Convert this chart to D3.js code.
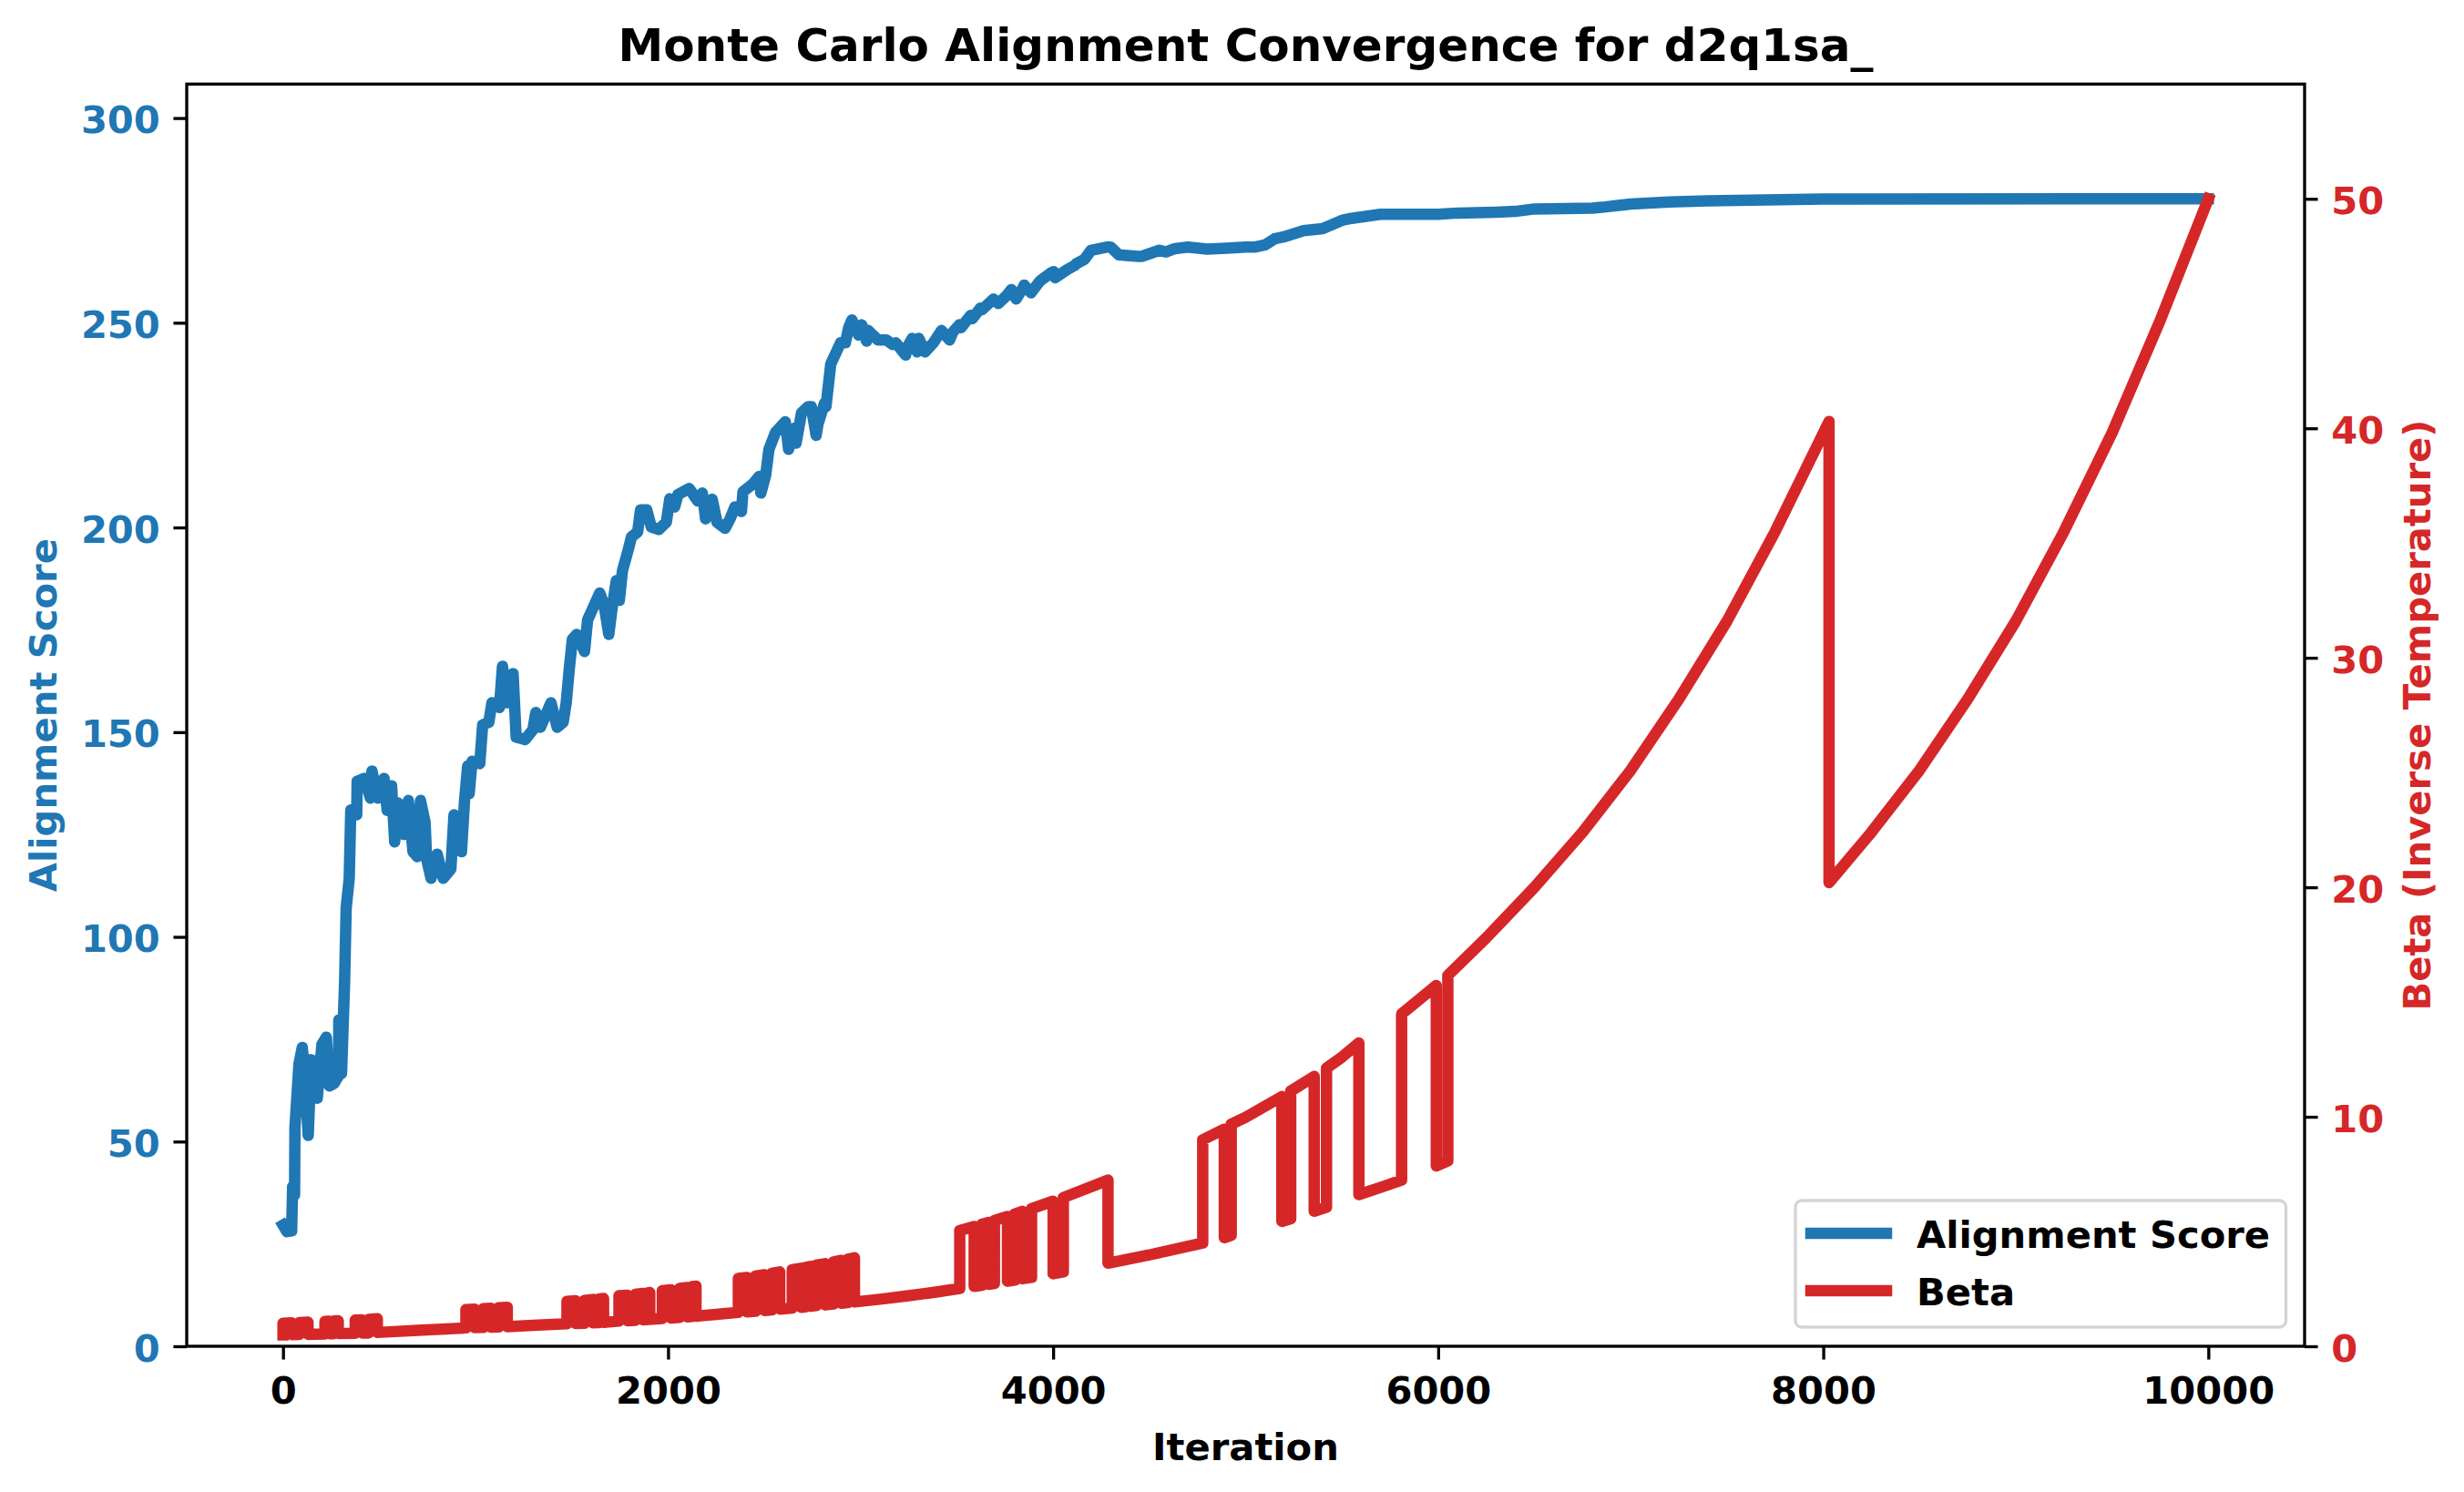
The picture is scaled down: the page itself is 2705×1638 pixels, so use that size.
<!DOCTYPE html>
<html>
<head>
<meta charset="utf-8">
<script src="https://cdn.jsdelivr.net/npm/d3@7"></script>
<style>
  body { margin: 0; background: #fff; }
  svg text { font-family: "DejaVu Sans", sans-serif; font-weight: bold; }
</style>
</head>
<body>
<svg id="chart" width="2705" height="1638"></svg>
<script>
// score trace
var scoreIter = [0, 20, 45, 50, 60, 62, 70, 83, 100, 110, 131, 146, 165, 178, 202, 225, 241, 265, 288, 290, 304, 320, 328, 344, 352, 383, 385, 422, 454, 462, 493, 525, 541, 564, 580, 596, 627, 651, 675, 698, 714, 738, 746, 769, 801, 832, 872, 888, 927, 943, 959, 967, 982, 1022, 1037, 1069, 1085, 1124, 1140, 1164, 1195, 1211, 1258, 1298, 1313, 1337, 1392, 1424, 1455, 1471, 1487, 1503, 1526, 1566, 1582, 1605, 1645, 1668, 1692, 1708, 1731, 1747, 1763, 1794, 1810, 1842, 1857, 1889, 1913, 1952, 1991, 2009, 2034, 2051, 2110, 2153, 2178, 2195, 2229, 2254, 2296, 2322, 2347, 2381, 2389, 2440, 2474, 2482, 2507, 2524, 2558, 2609, 2626, 2660, 2665, 2693, 2727, 2744, 2769, 2778, 2812, 2820, 2829, 2845, 2896, 2921, 2938, 2955, 2989, 3006, 3031, 3040, 3090, 3133, 3166, 3183, 3234, 3242, 3268, 3293, 3302, 3335, 3378, 3420, 3462, 3479, 3513, 3521, 3572, 3580, 3623, 3631, 3690, 3715, 3758, 3783, 3808, 3842, 3850, 3885, 3927, 3935, 3986, 4003, 4011, 4070, 4112, 4120, 4163, 4197, 4282, 4299, 4341, 4442, 4459, 4552, 4586, 4633, 4700, 4800, 4900, 5000, 5050, 5100, 5150, 5200, 5300, 5400, 5450, 5500, 5550, 5700, 5800, 6000, 6100, 6300, 6400, 6500, 6800, 6850, 7000, 7200, 7400, 7700, 8000, 10000];
var scoreVal = [29.6, 28.0, 28.2, 39.0, 37.0, 53.5, 59.4, 69.0, 73.0, 68.0, 51.5, 70.0, 62.0, 60.6, 73.7, 75.5, 63.6, 64.2, 66.0, 79.7, 66.6, 89.0, 107.0, 114.3, 131.0, 129.8, 138.0, 138.7, 133.9, 140.5, 133.9, 138.7, 130.9, 136.9, 123.2, 132.7, 125.0, 133.3, 120.8, 119.6, 133.3, 128.0, 119.0, 114.3, 120.2, 114.3, 116.6, 129.8, 120.8, 133.3, 141.7, 135.0, 142.9, 142.3, 151.8, 152.4, 157.2, 156.0, 166.1, 157.2, 164.3, 148.8, 148.2, 150.6, 154.8, 151.2, 157.2, 151.2, 152.4, 157.2, 165.5, 172.7, 173.9, 169.7, 177.4, 179.8, 184.0, 181.0, 173.9, 179.8, 187.0, 182.2, 189.4, 194.7, 197.7, 198.9, 204.3, 204.3, 200.1, 199.5, 201.3, 207.0, 205.0, 208.0, 209.5, 206.5, 208.4, 202.1, 206.9, 201.3, 199.8, 202.1, 205.0, 203.9, 208.7, 210.6, 212.5, 208.4, 212.8, 219.1, 223.2, 225.8, 219.1, 224.3, 220.6, 228.0, 229.5, 229.5, 222.5, 225.1, 230.3, 229.5, 233.2, 239.9, 245.1, 245.1, 248.8, 250.7, 247.0, 249.5, 245.5, 248.1, 245.8, 245.8, 244.7, 245.1, 242.1, 244.0, 246.2, 242.9, 246.2, 242.9, 245.1, 248.1, 245.8, 247.7, 249.5, 248.8, 251.8, 251.0, 253.6, 253.2, 255.8, 254.7, 256.6, 258.1, 255.8, 258.4, 259.2, 257.3, 259.9, 260.3, 262.1, 262.5, 261.0, 262.9, 264.0, 264.4, 265.5, 267.7, 268.5, 268.5, 266.6, 266.2, 266.2, 267.7, 267.3, 268.1, 268.5, 268.0, 268.2, 268.5, 268.5, 269.0, 270.5, 271.0, 272.5, 273.0, 274.0, 275.0, 275.5, 276.5, 276.5, 276.5, 276.8, 277.0, 277.2, 277.8, 278.0, 278.2, 279.0, 279.5, 279.8, 280.0, 280.2, 280.3, 280.3];

// beta trace (vertical jumps repeat the iteration)
var betaIter = [0, 0, 45, 45, 85, 85, 130, 130, 218, 218, 241, 241, 264, 264, 287, 287, 375, 375, 410, 410, 445, 445, 490, 490, 700, 950, 950, 995, 995, 1040, 1040, 1080, 1080, 1120, 1120, 1165, 1165, 1300, 1475, 1475, 1520, 1520, 1565, 1565, 1610, 1610, 1640, 1640, 1665, 1665, 1745, 1745, 1790, 1790, 1830, 1830, 1870, 1870, 1890, 1890, 1905, 1905, 1970, 1970, 2015, 2015, 2060, 2060, 2100, 2100, 2125, 2125, 2145, 2145, 2250, 2365, 2365, 2410, 2410, 2455, 2455, 2500, 2500, 2540, 2540, 2580, 2580, 2645, 2645, 2690, 2690, 2715, 2715, 2740, 2740, 2770, 2770, 2815, 2815, 2860, 2860, 2900, 2900, 2935, 2935, 2968, 2968, 3100, 3250, 3400, 3515, 3515, 3590, 3590, 3630, 3630, 3665, 3665, 3695, 3695, 3763, 3763, 3800, 3800, 3840, 3840, 3888, 3888, 3972, 4000, 4000, 4053, 4053, 4285, 4285, 4500, 4777, 4777, 4889, 4889, 4925, 4925, 5000, 5188, 5188, 5234, 5234, 5356, 5356, 5420, 5420, 5500, 5588, 5588, 5700, 5810, 5810, 5900, 5990, 5990, 6050, 6050, 6250, 6500, 6750, 7000, 7250, 7500, 7750, 8030, 8030, 8250, 8500, 8750, 9000, 9250, 9500, 9750, 10000];
var betaVal = [0.50, 1.00, 1.02, 0.51, 0.52, 1.03, 1.05, 0.52, 0.54, 1.08, 1.09, 0.55, 0.55, 1.10, 1.11, 0.56, 0.57, 1.14, 1.15, 0.58, 0.58, 1.17, 1.20, 0.60, 0.69, 0.80, 1.60, 1.62, 0.81, 0.82, 1.64, 1.66, 0.83, 0.84, 1.68, 1.70, 0.85, 0.91, 0.98, 1.96, 1.98, 0.99, 1.00, 2.00, 2.04, 1.02, 1.03, 2.06, 2.08, 1.04, 1.10, 2.20, 2.22, 1.11, 1.13, 2.26, 2.30, 1.15, 1.16, 2.32, 2.34, 1.17, 1.21, 2.42, 2.46, 1.23, 1.26, 2.52, 2.56, 1.28, 1.30, 2.60, 2.62, 1.31, 1.39, 1.48, 2.96, 3.00, 1.50, 1.53, 3.06, 3.12, 1.56, 1.59, 3.18, 3.24, 1.62, 1.67, 3.34, 3.40, 1.70, 1.72, 3.44, 3.48, 1.74, 1.77, 3.54, 3.60, 1.80, 1.84, 3.68, 3.74, 1.87, 1.90, 3.80, 3.86, 1.93, 2.05, 2.20, 2.37, 2.52, 5.04, 5.22, 2.61, 2.66, 5.32, 5.40, 2.70, 2.74, 5.48, 5.66, 2.83, 2.88, 5.76, 5.88, 2.94, 3.00, 6.00, 6.24, 6.32, 3.16, 3.24, 6.48, 7.24, 3.62, 3.98, 4.50, 9.00, 9.46, 4.73, 4.84, 9.68, 9.98, 10.88, 5.44, 5.56, 11.12, 11.76, 5.88, 6.06, 12.12, 12.60, 13.22, 6.61, 6.92, 7.24, 14.48, 15.10, 15.72, 7.86, 8.08, 16.16, 17.8, 20.0, 22.4, 25.1, 28.2, 31.6, 35.5, 40.3, 20.2, 22.4, 25.1, 28.2, 31.6, 35.5, 39.8, 44.7, 50.0];

var xTicks = [0, 2000, 4000, 6000, 8000, 10000];
var scoreTicks = [0, 50, 100, 150, 200, 250, 300];
var betaTicks = [0, 10, 20, 30, 40, 50];

var blue = "#1f77b4", red = "#d62728";
var plotLeft = 205, plotRight = 2530, plotTop = 92.3, plotBottom = 1478;
var fs = 41.67, tickLen = 14.58;

var svg = d3.select("#chart");

var x = d3.scaleLinear().domain([-500, 10500]).range([plotLeft, plotRight]);
var yScore = d3.scaleLinear().domain([0, 308.3]).range([plotBottom, plotTop]);
var yBeta = d3.scaleLinear().domain([0, 55]).range([plotBottom, plotTop]);

// lines
var scorePts = scoreIter.map((t, i) => [t, scoreVal[i]]);
var betaPts = betaIter.map((t, i) => [t, betaVal[i]]);

svg.append("path")
    .datum(scorePts)
    .attr("d", d3.line().x(d => x(d[0])).y(d => yScore(d[1])))
    .attr("fill", "none").attr("stroke", blue).attr("stroke-width", 12.5)
    .attr("stroke-linejoin", "round").attr("stroke-linecap", "square");

svg.append("path")
    .datum(betaPts)
    .attr("d", d3.line().x(d => x(d[0])).y(d => yBeta(d[1])))
    .attr("fill", "none").attr("stroke", red).attr("stroke-width", 12.5)
    .attr("stroke-linejoin", "round").attr("stroke-linecap", "square");

// axes
function styleAxis(g, color, dy) {
    g.select(".domain").remove();
    g.selectAll(".tick line").attr("stroke", "#000").attr("stroke-width", 3.33);
    g.selectAll(".tick text")
        .attr("fill", color)
        .attr("font-size", fs)
        .attr("font-family", "DejaVu Sans")
        .attr("font-weight", "bold")
        .attr("dy", dy);
}

svg.append("g")
    .attr("transform", `translate(0,${plotBottom})`)
    .call(d3.axisBottom(x).tickValues(xTicks).tickFormat(d3.format("d")).tickSize(tickLen).tickPadding(tickLen))
    .call(g => styleAxis(g, "#000", "34px"));

svg.append("g")
    .attr("transform", `translate(${plotLeft},0)`)
    .call(d3.axisLeft(yScore).tickValues(scoreTicks).tickFormat(d3.format("d")).tickSize(tickLen).tickPadding(tickLen))
    .call(g => styleAxis(g, blue, "16px"));

svg.append("g")
    .attr("transform", `translate(${plotRight},0)`)
    .call(d3.axisRight(yBeta).tickValues(betaTicks).tickFormat(d3.format("d")).tickSize(tickLen).tickPadding(tickLen))
    .call(g => styleAxis(g, red, "16px"));

// frame
svg.append("rect")
    .attr("x", plotLeft).attr("y", plotTop)
    .attr("width", plotRight - plotLeft).attr("height", plotBottom - plotTop)
    .attr("fill", "none").attr("stroke", "#000").attr("stroke-width", 3.33);

// title and labels
var cx = (plotLeft + plotRight) / 2, cy = (plotTop + plotBottom) / 2;
svg.append("text").attr("x", cx).attr("y", 67)
    .attr("text-anchor", "middle").attr("font-size", 50).attr("fill", "#000")
    .text("Monte Carlo Alignment Convergence for d2q1sa_");

svg.append("text").attr("x", cx).attr("y", 1603)
    .attr("text-anchor", "middle").attr("font-size", fs).attr("fill", "#000")
    .text("Iteration");

svg.append("text")
    .attr("transform", `translate(62,${cy}) rotate(-90)`)
    .attr("text-anchor", "middle").attr("font-size", fs).attr("fill", blue)
    .text("Alignment Score");

svg.append("text")
    .attr("transform", `translate(2668,${cy}) rotate(-90)`)
    .attr("text-anchor", "middle").attr("font-size", fs).attr("fill", red)
    .text("Beta (Inverse Temperature)");

// legend
var legend = svg.append("g");
legend.append("rect")
    .attr("x", 1971).attr("y", 1318).attr("width", 538.5).attr("height", 139)
    .attr("rx", 7).attr("ry", 7)
    .attr("fill", "#fff").attr("fill-opacity", 0.8)
    .attr("stroke", "#d4d4d4").attr("stroke-width", 3.3);

var legendItems = [
    { label: "Alignment Score", color: blue, y: 1354 },
    { label: "Beta", color: red, y: 1417 }
];
legendItems.forEach(item => {
    legend.append("line")
        .attr("x1", 1988).attr("x2", 2071).attr("y1", item.y).attr("y2", item.y)
        .attr("stroke", item.color).attr("stroke-width", 12.5).attr("stroke-linecap", "square");
    legend.append("text")
        .attr("x", 2104).attr("y", item.y + 15.5)
        .attr("font-size", fs).attr("fill", "#000")
        .text(item.label);
});
</script>
</body>
</html>
